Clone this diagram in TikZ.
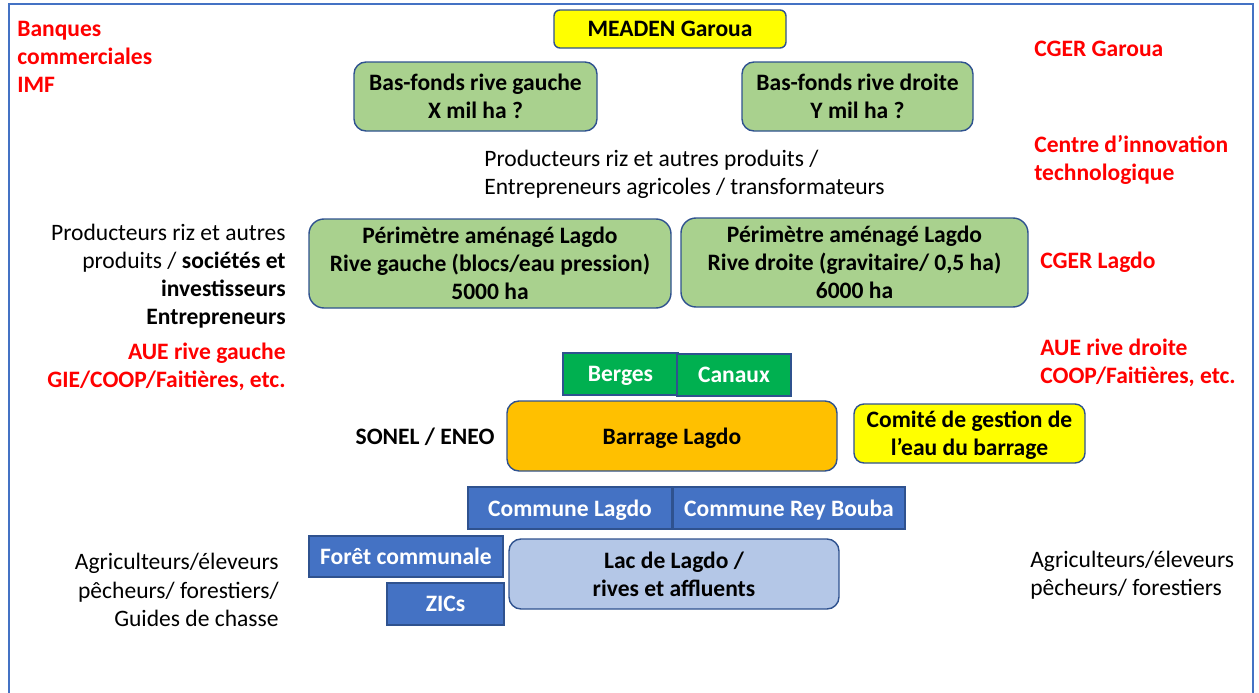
\documentclass[tikz,border=0pt]{standalone}
\usepackage{fontspec}
\setmainfont{Carlito}
\usepackage{tikz}
\usetikzlibrary{calc}
\definecolor{cadre}{HTML}{4472C4}
\definecolor{trait}{HTML}{2F528F}
\definecolor{vertclair}{HTML}{A9D18E}
\definecolor{vertfonce}{HTML}{00B050}
\definecolor{jaune}{HTML}{FFFF00}
\definecolor{orange}{HTML}{FFC000}
\definecolor{bleu}{HTML}{4472C4}
\definecolor{bleuclair}{HTML}{B4C7E7}
\definecolor{rouge}{HTML}{FF0000}
\newcommand{\taille}{\fontsize{13.4}{16}\selectfont}
\tikzset{
	%	size in pixels of the screenshot
	sz/.style 2 args={minimum width=#1*0.02cm, minimum height=#2*0.02cm},
	bloc/.style={draw=trait, line width=0.8pt, align=center, inner sep=0pt, text depth=-1.5pt, font=\taille\bfseries},
	rond/.style={bloc, rounded corners=#1*0.02cm},
	txt/.style={inner sep=0pt, align=left, font=\taille},
	txtd/.style={inner sep=0pt, align=right, font=\taille},
	acteur/.style={txt, text=rouge, font=\taille\bfseries}
}
\begin{document}
\begin{tikzpicture}[x=0.02cm, y=-0.02cm]
\useasboundingbox (0,0) rectangle (1259,693);
\draw[cadre, line width=1.2pt] (9,693) -- (9,4) -- (1253,4) -- (1253,693);

% en haut
\node[rond=6, sz={232}{38}, fill=jaune] (meaden) at (670,29) {MEADEN Garoua};
\node[rond=12, sz={243}{69}, fill=vertclair] (bfg) at (475.5,96.5) {Bas-fonds rive gauche\\X mil ha ?};
\node[rond=12, sz={231}{69}, fill=vertclair] (bfd) at (857.5,96.5) {Bas-fonds rive droite\\Y mil ha ?};
\node[txt, anchor=west] (prod) at (484,174) {Producteurs riz et autres produits /\\Entrepreneurs agricoles / transformateurs};

% perimetres
\node[rond=15, sz={362}{89}, fill=vertclair] (pg) at (490,263.5) {P\'erim\`etre am\'enag\'e Lagdo\\Rive gauche (blocs/eau pression)\\5000 ha};
\node[rond=15, sz={347}{89}, fill=vertclair] (pd) at (854.5,262.5) {P\'erim\`etre am\'enag\'e Lagdo\\Rive droite (gravitaire/ 0,5 ha)\\6000 ha};

% barrage
\node[bloc, sz={115}{42}, fill=vertfonce, text=white] (berges) at (620.5,374) {Berges};
\node[bloc, sz={114}{42}, fill=vertfonce, text=white] (canaux) at (734,375) {Canaux};
\node[rond=12, sz={330}{70}, fill=orange] (barrage) at (672,436) {Barrage Lagdo};
\node[inner sep=0pt, font=\taille\bfseries] (sonel) at (425,437) {SONEL / ENEO};
\node[rond=10, sz={231}{59}, fill=jaune] (comite) at (969.5,433.5) {Comit\'e de gestion de\\l'eau du barrage};

% communes et lac
\node[bloc, sz={204}{42}, fill=bleu, text=white] (clagdo) at (570,508) {Commune Lagdo};
\node[bloc, sz={232}{42}, fill=bleu, text=white] (crey) at (789,508) {Commune Rey Bouba};
\node[bloc, sz={194}{41}, fill=bleu, text=white] (foret) at (406,556.5) {For\^et communale};
\node[bloc, sz={117}{42}, fill=bleu, text=white] (zics) at (445.5,604) {ZICs};
\node[rond=12, sz={330}{70}, fill=bleuclair] (lac) at (674,574) {Lac de Lagdo /\\rives et affluents};

% acteurs a gauche
\node[acteur, anchor=west] (banques) at (17,57) {Banques\\commerciales\\IMF};
\node[txtd, anchor=east] (prodg) at (286,276) {Producteurs riz et autres\\produits / \textbf{soci\'et\'es et}\\\textbf{investisseurs}\\\textbf{Entrepreneurs}};
\node[acteur, align=right, anchor=east] (aueg) at (286,367) {AUE rive gauche\\GIE/COOP/Faiti\`eres, etc.};
\node[txtd, anchor=east] (agrig) at (279,590) {Agriculteurs/\'eleveurs\\p\^echeurs/ forestiers/\\Guides de chasse};

% acteurs a droite
\node[acteur, anchor=west] (cgerg) at (1034,49) {CGER Garoua};
\node[acteur, anchor=west] (centre) at (1034,159.5) {Centre d'innovation\\technologique};
\node[acteur, anchor=west] (cgerl) at (1040,262) {CGER Lagdo};
\node[acteur, anchor=west] (aued) at (1040,363) {AUE rive droite\\COOP/Faiti\`eres, etc.};
\node[txt, anchor=west] (agrid) at (1030,575.5) {Agriculteurs/\'eleveurs\\p\^echeurs/ forestiers};
\end{tikzpicture}
\end{document}
